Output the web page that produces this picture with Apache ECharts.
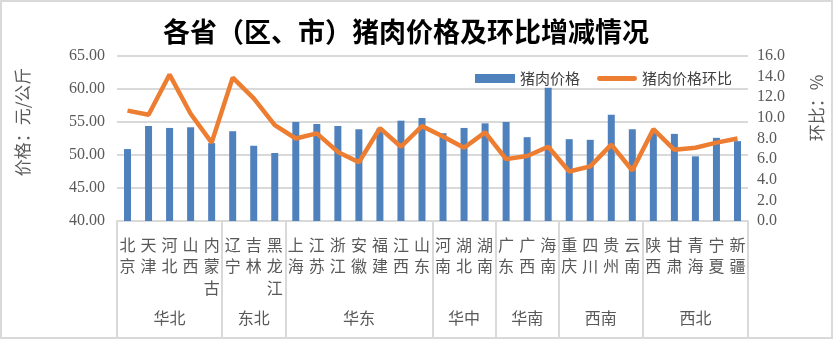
<!DOCTYPE html>
<html>
<head>
<meta charset="utf-8">
<script src="https://cdn.jsdelivr.net/npm/echarts@6/dist/echarts.min.js"></script>
<style>
html,body{margin:0;padding:0;background:#fff;}
#wrap{width:833px;height:339px;box-sizing:border-box;border:2px solid #d9d9d9;position:relative;}
#c{position:absolute;left:-2px;top:-2px;width:833px;height:339px;}
</style>
</head>
<body>
<div id="wrap"><div id="c"></div></div>
<script>
const provinces = ['北京','天津','河北','山西','内蒙古','辽宁','吉林','黑龙江','上海','江苏','浙江','安徽','福建','江西','山东','河南','湖北','湖南','广东','广西','海南','重庆','四川','贵州','云南','陕西','甘肃','青海','宁夏','新疆'];
const groupNames = ['华北','东北','华东','华中','华南','西南','西北'];
const groupSizes = [5,3,7,3,3,4,5];
const prices = [50.9,54.4,54.1,54.2,51.8,53.6,51.4,50.3,55.0,54.7,54.4,53.9,54.0,55.2,55.6,53.3,54.1,54.8,55.0,52.7,60.2,52.4,52.3,56.1,53.9,53.5,53.2,49.8,52.6,52.1];
const momChange = [10.7,10.3,14.2,10.4,7.6,13.9,11.9,9.3,8.0,8.5,6.7,5.7,9.0,7.2,9.2,8.2,7.1,8.6,6.0,6.3,7.2,4.8,5.3,7.4,4.9,8.9,6.9,7.1,7.6,8.0];
const leftTicks = {min:40, max:65, step:5};
const rightTicks = {min:0, max:16, step:2};

// half-slot axis for group labels and separators
const n = provinces.length;
const slots = new Array(2*n+1).fill('');
const boundaries = new Set([0]);
let s = 0;
groupNames.forEach((g,i)=>{
  slots[2*s+groupSizes[i]] = g;
  s += groupSizes[i];
  boundaries.add(2*s);
});

const gray = '#d9d9d9';
const txt = '#595959';
const cjk = '"Noto Sans CJK SC", sans-serif';
const num = '"Liberation Serif", serif';
const lineIcon = 'path://M0,0 L0,0 Z M0,9 L0,9 Z M2,2 L38,2 A2.5,2.5 0 0 1 38,7 L2,7 A2.5,2.5 0 0 1 2,2 Z';

const chart = echarts.init(document.getElementById('c'), null, {renderer:'canvas'});
chart.setOption({
  animation:false,
  title:{
    text:'各省（区、市）猪肉价格及环比增减情况',
    left:163, top:18, padding:0,
    textStyle:{fontFamily:cjk, fontSize:27, fontWeight:'bold', color:'#000'}
  },
  legend:{
    left:470, top:66, itemWidth:40, itemHeight:9, itemGap:17,
    textStyle:{fontFamily:cjk, fontSize:15, color:'#404040'},
    data:[{name:'猪肉价格', icon:'rect'}, {name:'猪肉价格环比', icon:lineIcon, itemStyle:{color:'#ED7D31'}}]
  },
  grid:{left:117, right:85, top:56, bottom:118, containLabel:false},
  xAxis:[
    {
      type:'category', data:provinces, boundaryGap:true,
      axisLine:{lineStyle:{color:gray, width:2}},
      axisTick:{show:false},
      axisLabel:{interval:0, margin:13, color:txt, fontFamily:cjk, fontSize:16, lineHeight:21.5,
        formatter:v=>v.split('').join('\n')}
    },
    {
      type:'category', data:slots, boundaryGap:false, position:'bottom', gridIndex:0,
      axisLine:{show:false},
      axisTick:{show:true, interval:(i)=>boundaries.has(i), length:116, lineStyle:{color:gray, width:2}},
      axisLabel:{interval:0, margin:89, color:txt, fontFamily:cjk, fontSize:16}
    }
  ],
  yAxis:[
    {
      type:'value', min:leftTicks.min, max:leftTicks.max, interval:leftTicks.step,
      axisLine:{show:false}, axisTick:{show:false},
      splitLine:{lineStyle:{color:gray, width:2}},
      axisLabel:{margin:12, color:txt, fontFamily:num, fontSize:16, formatter:v=>v.toFixed(2)}
    },
    {
      type:'value', min:rightTicks.min, max:rightTicks.max, interval:rightTicks.step,
      axisLine:{show:false}, axisTick:{show:false}, splitLine:{show:false},
      axisLabel:{margin:9, color:txt, fontFamily:num, fontSize:16, formatter:v=>v.toFixed(1)}
    }
  ],
  graphic:[
    {type:'text', x:23, y:122, rotation:Math.PI/2,
      style:{text:'价格：元/公斤', fill:txt, font:'17px "Noto Sans CJK SC"', align:'center', verticalAlign:'middle'}},
    {type:'text', x:817, y:108, rotation:Math.PI/2,
      style:{text:'环比：%', fill:txt, font:'17px "Noto Sans CJK SC"', align:'center', verticalAlign:'middle'}}
  ],
  series:[
    {name:'猪肉价格', type:'bar', data:prices, barWidth:7, itemStyle:{color:'#4F81BD'}, xAxisIndex:0, yAxisIndex:0},
    {name:'猪肉价格环比', type:'line', data:momChange, xAxisIndex:0, yAxisIndex:1, symbol:'none',
      lineStyle:{color:'#ED7D31', width:4.5}, itemStyle:{color:'#ED7D31'}}
  ]
});
</script>
</body>
</html>
